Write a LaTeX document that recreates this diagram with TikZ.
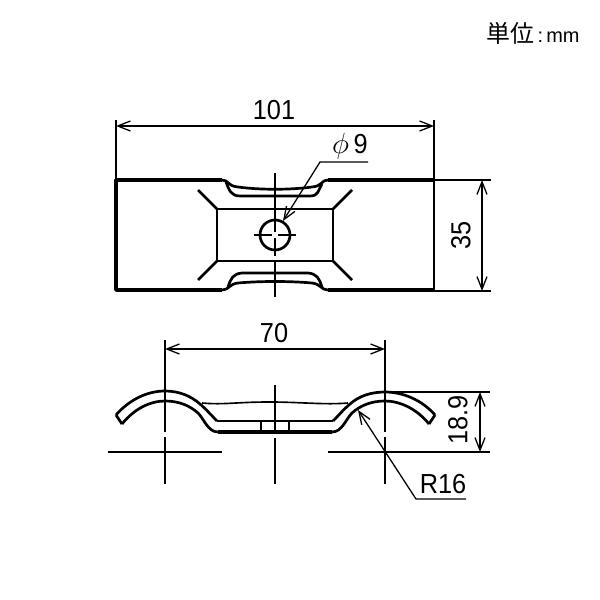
\documentclass[tikz,border=0pt]{standalone}
\usepackage{fontspec}
\setmainfont[FakeStretch=0.92]{Liberation Sans}
\newfontfamily\plainfont{Liberation Sans}
\newfontfamily\cjkfont{Noto Sans CJK JP}
\usetikzlibrary{arrows.meta,positioning}
\tikzset{
	outline/.style={line width=3pt,line join=round,black},
	thinline/.style={line width=1.1pt,black},
	midline/.style={line width=2.3pt,line join=round,black},
	centerline/.style={line width=1.4pt,black},
	dimline/.style={line width=1.1pt,black,{Straight Barb[length=3.8mm,width=3mm]}-{Straight Barb[length=3.8mm,width=3mm]}},
	leaderline/.style={line width=1.1pt,black,-{Straight Barb[length=3.8mm,width=3mm]}},
	dimtext/.style={inner sep=0pt,font=\fontsize{23.5pt}{26pt}\selectfont}
}
\begin{document}
\begin{tikzpicture}[x=0.03cm,y=-0.03cm]
	\useasboundingbox (0,0) rectangle (600,600);
	% unit
	\node[inner sep=0pt] (unit) at (533,33) {{\fontsize{20.4pt}{24pt}\selectfont\cjkfont 単位}{\fontsize{17pt}{24pt}\selectfont\plainfont\,:\,mm}};

	% plan view
	\draw[outline] (222,180) -- (116,180) -- (116,290) -- (222,290);
	\draw[outline] (434,180) -- (328,180);
	\draw[outline] (434,290) -- (328,290);
	\draw[midline] (434,180) -- (434,290);
	\draw[midline] (222,180) .. controls (229,180) and (227,186) .. (238,187) .. controls (260,190) and (290,190) .. (312,187) .. controls (323,186) and (321,180) .. (328,180);
	\draw[midline] (226,182) .. controls (229,190) and (231,196) .. (240,196) -- (310,196) .. controls (319,196) and (318,190) .. (322,184);
	\draw[midline] (222,290) .. controls (229,290) and (229,284) .. (238,283) .. controls (260,281) and (290,281) .. (312,283) .. controls (321,284) and (321,290) .. (328,290);
	\draw[midline] (228,287) .. controls (231,278) and (233,274) .. (242,273) -- (308,273) .. controls (317,274) and (319,278) .. (322,287);
	\draw[midline] (217,209) rectangle (333,261);
	\draw[midline] (217,209) -- (198,190);
	\draw[midline] (333,209) -- (352,190);
	\draw[midline] (217,261) -- (198,280);
	\draw[midline] (333,261) -- (352,280);
	\draw[midline] (275,235) circle (15);
	\draw[centerline] (275,173) -- (275,232);
	\draw[centerline] (275,238) -- (275,256);
	\draw[centerline] (275,260) -- (275,297);
	\draw[centerline] (254,235) -- (272,235);
	\draw[centerline] (278,235) -- (296,235);

	% dimensions, plan view
	\draw[thinline] (116,120) -- (116,180);
	\draw[thinline] (434,120) -- (434,180);
	\draw[dimline] (116,126) -- (434,126);
	\node[dimtext] (w101) at (274,110) {101};
	\draw[thinline] (434,180) -- (491,180);
	\draw[thinline] (434,291) -- (491,291);
	\draw[dimline] (482,180) -- (482,291);
	\node[dimtext,rotate=90] (h35) at (461,235) {35};
	\coordinate (phistart) at (368,162);
	\coordinate (phibend) at (320,162);
	\draw[leaderline] (phistart) -- (phibend) -- (283,221);
	\node[dimtext] (phi9) at (350,146) {$\phi$\,9};

	% side view
	\draw[midline] (217,421) -- (333,421);
	\draw[outline] (218,432) -- (332,432);
	\draw[midline] (261,421) -- (261,432);
	\draw[midline] (289,421) -- (289,432);
	\draw[midline] (116,415) -- (122,424);
	\draw[midline] (435,415) -- (429,424);
	\draw[midline] (116,415) .. controls (129,400) and (147,391) .. (165,391) .. controls (179,391) and (191,396) .. (200,404) .. controls (207,410) and (211,415) .. (217,421);
	\draw[midline] (122,424) .. controls (134,409) and (150,401) .. (165,401) .. controls (178,401) and (189,405) .. (198,413) .. controls (204,419) and (208,432) .. (218,432);
	\draw[midline] (435,415) .. controls (422,400) and (403,392) .. (385,392) .. controls (371,392) and (359,396) .. (350,404) .. controls (343,410) and (339,415) .. (333,421);
	\draw[midline] (429,424) .. controls (417,409) and (400,401) .. (385,401) .. controls (372,401) and (361,405) .. (352,413) .. controls (346,419) and (342,432) .. (332,432);
	\draw[centerline] (202,403) .. controls (225,405) and (235,402) .. (270,402) .. controls (300,402) and (325,405) .. (348,403);
	\draw[centerline] (165,340) -- (165,432);
	\draw[centerline] (165,437) -- (165,484);
	\draw[centerline] (385,340) -- (385,432);
	\draw[centerline] (385,437) -- (385,484);
	\draw[centerline] (275,385) -- (275,434);
	\draw[centerline] (275,438) -- (275,484);
	\draw[centerline] (108,452) -- (222,452);
	\draw[centerline] (328,452) -- (490,452);

	% dimensions, side view
	\draw[dimline] (165,349) -- (385,349);
	\node[dimtext] (w70) at (274,333) {70};
	\draw[thinline] (385,392) -- (490,392);
	\draw[dimline] (480,392) -- (480,452);
	\node[dimtext,rotate=90] (h189) at (458,420) {18.9};
	\coordinate (rstart) at (466,499);
	\coordinate (rbend) at (416,499);
	\draw[leaderline] (rstart) -- (rbend) -- (358,410);
	\node[dimtext] (r16) at (443,484) {R16};
\end{tikzpicture}
\end{document}
